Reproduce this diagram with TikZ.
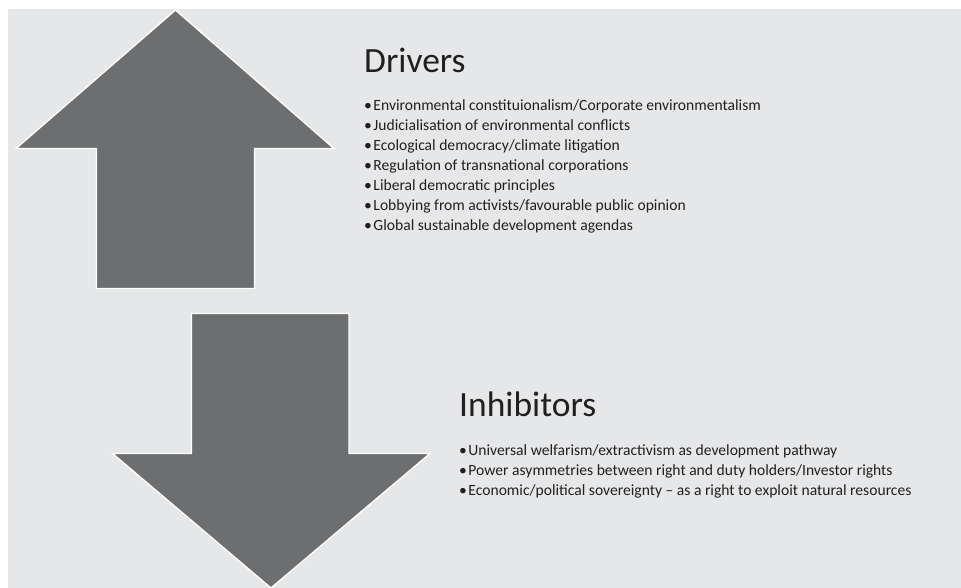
\documentclass[tikz,border=0pt]{standalone}
\usepackage{fontspec}
\setmainfont{Carlito}
\begin{document}
\begin{tikzpicture}[x=1pt,y=-1pt,
  panel/.style={fill=panelgrey, draw=none},
  bigarrow/.style={fill=arrowgrey, draw=white, line width=1.4pt, line join=miter},
  heading/.style={anchor=base west, inner sep=0pt, text=ink, font=\fontsize{35.5}{40}\selectfont},
  item/.style={anchor=base west, inner sep=0pt, text=ink, font=\fontsize{15.6}{20}\selectfont}]
\definecolor{panelgrey}{HTML}{E6E7E8}
\definecolor{arrowgrey}{HTML}{6D6E70}
\definecolor{ink}{HTML}{231F20}
% page frame and panel
\useasboundingbox (0,0) rectangle (961,588);
\fill[white] (0,0) rectangle (961,588);
\path[panel] (8,9) rectangle (961,588);
% up arrow (drivers)
\draw[bigarrow] (175.5,10) -- (334,148.5) -- (254.5,148.5) -- (254.5,288.5)
  -- (96.5,288.5) -- (96.5,148.5) -- (16,148.5) -- cycle;
% down arrow (inhibitors)
\draw[bigarrow] (191.5,313.5) -- (349,313.5) -- (349,453.5) -- (430,453.5)
  -- (271,588) -- (112.5,453.5) -- (191.5,453.5) -- cycle;
% drivers
\node[heading] (dh) at (364,73) {Drivers};
\foreach \t [count=\i] in {
  Environmental constituionalism/Corporate environmentalism,
  Judicialisation of environmental conflicts,
  Ecological democracy/climate litigation,
  Regulation of transnational corporations,
  Liberal democratic principles,
  Lobbying from activists/favourable public opinion,
  Global sustainable development agendas}
  \node[item] (d\i) at (364,{111+20*(\i-1)}) {•\hspace{1.5pt}\t};
% inhibitors
\node[heading] (ih) at (459,416) {Inhibitors};
\foreach \t [count=\i] in {
  Universal welfarism/extractivism as development pathway,
  Power asymmetries between right and duty holders/Investor rights,
  Economic/political sovereignty -- as a right to exploit natural resources}
  \node[item] (i\i) at (459,{455+20*(\i-1)}) {•\hspace{1.5pt}\t};
\end{tikzpicture}
\end{document}
